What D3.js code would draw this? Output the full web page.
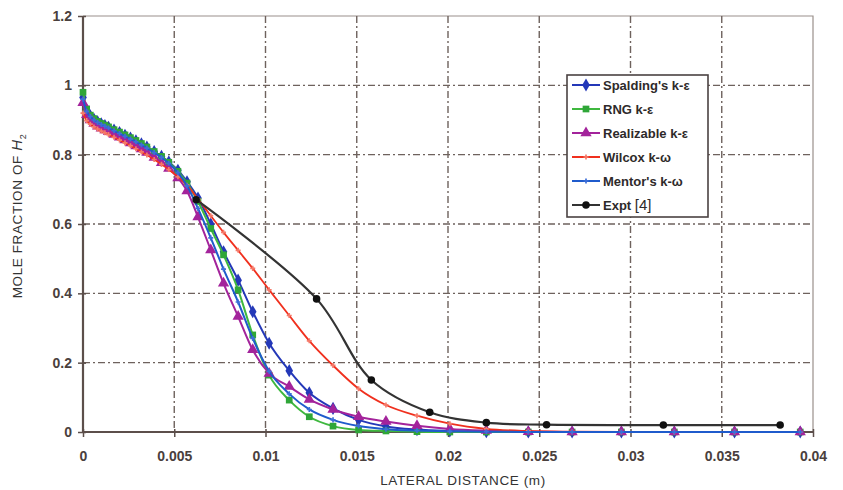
<!DOCTYPE html>
<html>
<head>
<meta charset="utf-8">
<script src="https://cdn.jsdelivr.net/npm/d3@7"></script>
<style>
  body { margin: 0; background: #fff; }
  svg { display: block; }
  text { font-family: Arial, "Liberation Sans", sans-serif; }
</style>
</head>
<body>
<svg width="843" height="490"></svg>
<script>
// ---- data ----
var xGrid = [0, 0.0002, 0.0004, 0.0006, 0.0008, 0.001, 0.0012, 0.0014, 0.0017, 0.002,
  0.0023, 0.0026, 0.0029, 0.0032, 0.0035, 0.0039, 0.0043, 0.0047, 0.0052, 0.0057,
  0.0063, 0.007, 0.0077, 0.0085, 0.0093, 0.0102, 0.0113, 0.0124, 0.0137, 0.0151,
  0.0166, 0.0183, 0.0201, 0.0221, 0.0244, 0.0268, 0.0295, 0.0324, 0.0357, 0.0393];

var spalding = [0.965, 0.928, 0.912, 0.902, 0.895, 0.889, 0.884, 0.879, 0.871, 0.864,
  0.856, 0.848, 0.84, 0.831, 0.822, 0.809, 0.795, 0.779, 0.755, 0.722,
  0.675, 0.6, 0.52, 0.438, 0.347, 0.256, 0.177, 0.113, 0.068, 0.035,
  0.016, 0.007, 0.003, 0.001, 0, 0, 0, 0, 0, 0];

var rng = [0.98, 0.932, 0.914, 0.904, 0.896, 0.89, 0.885, 0.88, 0.872, 0.865,
  0.857, 0.849, 0.841, 0.832, 0.822, 0.809, 0.795, 0.778, 0.752, 0.718,
  0.665, 0.587, 0.511, 0.41, 0.28, 0.164, 0.092, 0.044, 0.017, 0.006,
  0.003, 0.001, 0, 0, 0, 0, 0, 0, 0, 0];

var realizable = [0.95, 0.915, 0.9, 0.89, 0.882, 0.876, 0.871, 0.866, 0.858, 0.85,
  0.842, 0.834, 0.825, 0.816, 0.806, 0.792, 0.777, 0.76, 0.733, 0.695,
  0.62, 0.525, 0.429, 0.333, 0.237, 0.169, 0.131, 0.094, 0.065, 0.044,
  0.03, 0.018, 0.009, 0.004, 0.001, 0, 0, 0, 0, 0];

var mentor = [0.96, 0.925, 0.91, 0.9, 0.893, 0.887, 0.882, 0.877, 0.869, 0.861,
  0.853, 0.845, 0.837, 0.828, 0.819, 0.806, 0.792, 0.775, 0.748, 0.71,
  0.645, 0.56, 0.47, 0.375, 0.27, 0.175, 0.11, 0.065, 0.035, 0.017,
  0.008, 0.004, 0.002, 0.001, 0, 0, 0, 0, 0, 0];

var wilcox = [0.92, 0.898, 0.888, 0.88, 0.874, 0.868, 0.863, 0.858, 0.85, 0.842,
  0.834, 0.826, 0.817, 0.808, 0.799, 0.786, 0.772, 0.757, 0.736, 0.712,
  0.672, 0.624, 0.576, 0.524, 0.472, 0.41, 0.336, 0.263, 0.192, 0.125,
  0.078, 0.047, 0.024, 0.009, 0.003, 0.001, 0, 0, 0, 0];

var exptX = [0.0062, 0.0128, 0.0158, 0.019, 0.0221, 0.0254, 0.0318, 0.0382];
var exptY = [0.67, 0.384, 0.15, 0.057, 0.027, 0.021, 0.02, 0.02];

var xTicks = [0, 0.005, 0.01, 0.015, 0.02, 0.025, 0.03, 0.035, 0.04];
var xTickLabels = ["0", "0.005", "0.01", "0.015", "0.02", "0.025", "0.03", "0.035", "0.04"];
var yTicks = [0, 0.2, 0.4, 0.6, 0.8, 1, 1.2];
var yTickLabels = ["0", "0.2", "0.4", "0.6", "0.8", "1", "1.2"];

var seriesNames = ["Spalding's k-\u03b5", "RNG k-\u03b5", "Realizable k-\u03b5", "Wilcox k-\u03c9", "Mentor's k-\u03c9", "Expt"];

// ---- setup ----
var svg = d3.select("svg");
var x = d3.scaleLinear().domain([0, 0.04]).range([83, 813]);
var y = d3.scaleLinear().domain([0, 1.2]).range([432, 16]);

var axisColor = "#5c4f4b";
var gridColor = "#6e625d";

// plot border (top/right)
svg.append("path")
  .attr("d", "M" + x(0) + "," + y(1.2) + "H" + x(0.04) + "V" + y(0))
  .attr("fill", "none").attr("stroke", "#9a908b").attr("stroke-width", 1.2);

// grid
svg.append("g").selectAll("line")
  .data(xTicks.slice(1, -1)).enter().append("line")
  .attr("x1", d => x(d)).attr("x2", d => x(d))
  .attr("y1", y(1.2)).attr("y2", y(0))
  .attr("stroke", gridColor).attr("stroke-width", 1.4)
  .attr("stroke-dasharray", "7,3,2,3");
svg.append("g").selectAll("line")
  .data(yTicks.slice(1, -1)).enter().append("line")
  .attr("x1", x(0)).attr("x2", x(0.04))
  .attr("y1", d => y(d)).attr("y2", d => y(d))
  .attr("stroke", gridColor).attr("stroke-width", 1.4)
  .attr("stroke-dasharray", "7,3,2,3");

// axes
var gy = svg.append("g").attr("transform", "translate(" + x(0) + ",0)")
  .call(d3.axisLeft(y).tickValues(yTicks).tickFormat((d, i) => yTickLabels[i]).tickSize(5).tickPadding(6));
var gx = svg.append("g").attr("transform", "translate(0," + y(0) + ")")
  .call(d3.axisBottom(x).tickValues(xTicks).tickFormat((d, i) => xTickLabels[i]).tickSize(5).tickPadding(14));
gy.selectAll("line").attr("x1", 3);
gx.selectAll("line").attr("y1", -3);
[gx, gy].forEach(function (g) {
  g.select(".domain").attr("stroke", axisColor).attr("stroke-width", 2.2);
  g.selectAll(".tick line").attr("stroke", axisColor).attr("stroke-width", 1.5);
  g.selectAll("text").attr("fill", "#4a403d").attr("font-size", 14).attr("font-weight", "bold")
    .attr("font-family", "Arial, 'Liberation Sans', sans-serif");
});
gy.select(".domain").attr("d", "M0," + y(1.2) + "V" + y(0));
gx.select(".domain").attr("d", "M" + x(0) + ",0H" + x(0.04));

// axis titles
svg.append("text")
  .attr("x", 463).attr("y", 485)
  .attr("text-anchor", "middle").attr("font-size", 13.5).attr("fill", "#333")
  .attr("letter-spacing", 0.6)
  .text("LATERAL DISTANCE (m)");
var yt = svg.append("text")
  .attr("transform", "translate(22,216) rotate(-90)")
  .attr("text-anchor", "middle").attr("font-size", 13.5).attr("fill", "#333")
  .attr("letter-spacing", 0.6);
yt.append("tspan").text("MOLE FRACTION OF ");
yt.append("tspan").attr("font-style", "italic").attr("font-size", 15).text("H");
yt.append("tspan").attr("font-size", 9).attr("dy", 4).text("2");

// ---- series ----
var smooth = d3.line().x(d => x(d[0])).y(d => y(d[1])).curve(d3.curveMonotoneX);
var smoothExpt = d3.line().x(d => x(d[0])).y(d => y(d[1])).curve(d3.curveCatmullRom.alpha(0.5));

function zip(xs, ys) { return xs.map((v, i) => [v, ys[i]]); }

var series = [
  { name: seriesNames[0], data: zip(xGrid, spalding), color: "#2438b8", marker: d3.symbolDiamond, msize: 50, mcolor: "#2438b8", width: 2 },
  { name: seriesNames[1], data: zip(xGrid, rng), color: "#3fb83f", marker: d3.symbolSquare, msize: 45, mcolor: "#2fa638", width: 2 },
  { name: seriesNames[2], data: zip(xGrid, realizable), color: "#a3239b", marker: d3.symbolTriangle, msize: 55, mcolor: "#a3239b", width: 2 },
  { name: seriesNames[3], data: zip(xGrid, wilcox), color: "#f0301e", marker: d3.symbolCross, msize: 14, mcolor: "#f57a6a", width: 1.8 },
  { name: seriesNames[4], data: zip(xGrid, mentor), color: "#1f5bcc", marker: d3.symbolCross, msize: 14, mcolor: "#3d6fd8", width: 2 },
  { name: seriesNames[5], data: zip(exptX, exptY), color: "#333333", marker: d3.symbolCircle, msize: 45, mcolor: "#111111", width: 2.2 }
];

var gs = svg.append("g").selectAll("g").data(series).enter().append("g");
gs.append("path")
  .attr("d", (d, i) => (i === 5 ? smoothExpt : smooth)(d.data))
  .attr("fill", "none")
  .attr("stroke", d => d.color)
  .attr("stroke-width", d => d.width);
gs.each(function (s) {
  d3.select(this).selectAll("path.m").data(s.data).enter().append("path")
    .attr("class", "m")
    .attr("transform", d => "translate(" + x(d[0]) + "," + y(d[1]) + ")")
    .attr("d", d3.symbol().type(s.marker).size(s.msize))
    .attr("fill", s.mcolor);
});

// ---- legend ----
var lg = svg.append("g").attr("transform", "translate(567,75)");
lg.append("rect").attr("width", 141).attr("height", 142)
  .attr("fill", "#fff").attr("stroke", "#4a4242").attr("stroke-width", 1.6);
var rows = lg.selectAll("g").data(series).enter().append("g")
  .attr("transform", (d, i) => "translate(0," + (10 + i * 24) + ")");
rows.append("line").attr("x1", 5).attr("x2", 33).attr("y1", 0).attr("y2", 0)
  .attr("stroke", d => d.color).attr("stroke-width", 2);
rows.append("path").attr("transform", "translate(19,0)")
  .attr("d", d => d3.symbol().type(d.marker).size(d.msize)())
  .attr("fill", d => d.mcolor);
rows.append("text").attr("x", 36).attr("y", 5)
  .attr("font-size", 13).attr("font-weight", "bold").attr("fill", "#2e2a2a")
  .each(function (d, i) {
    var t = d3.select(this);
    if (i === 5) {
      t.append("tspan").text("Expt ");
      t.append("tspan").attr("font-weight", "normal").attr("font-size", 15).text("[4]");
    } else {
      t.text(d.name);
    }
  });
</script>
</body>
</html>
